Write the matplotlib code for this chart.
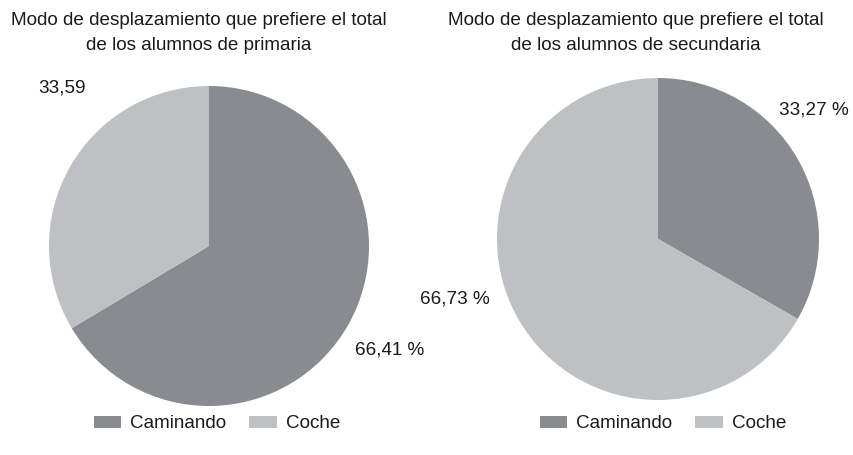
import matplotlib.pyplot as plt
from matplotlib.patches import Patch

# data
modos = ['Caminando', 'Coche']
primaria = [66.41, 33.59]
secundaria = [33.27, 66.73]
etiquetas_primaria = ['66,41 %', '33,59']
etiquetas_secundaria = ['33,27 %', '66,73 %']
titulos = ['Modo de desplazamiento que prefiere el total\nde los alumnos de primaria',
           'Modo de desplazamiento que prefiere el total\nde los alumnos de secundaria']

colores = ['#8a8b90', '#bfc0c4']
W, H = 854, 455
FS = 13.6

plt.rcParams['font.family'] = ['Liberation Sans', 'DejaVu Sans']
fig = plt.figure(figsize=(W / 100, H / 100), dpi=100)


def pie_axes(cx, cy, r):
    # axes in pixel terms: centre and radius of the pie
    return fig.add_axes([(cx - r) / W, (H - cy - r) / H, 2 * r / W, 2 * r / H])


def draw(ax, values, labels, label_pos):
    ax.pie(values, colors=colores, startangle=90, counterclock=False,
           radius=1, wedgeprops=dict(linewidth=0))
    ax.set_xlim(-1, 1)
    ax.set_ylim(-1, 1)
    ax.set_aspect('auto')
    ax.axis('off')
    for lab, (x, y) in zip(labels, label_pos):
        ax.text(x, y, lab, ha='center', va='center', fontsize=FS,
                color='#1a1a1a', clip_on=False)


ax1 = pie_axes(209, 246, 160)
draw(ax1, primaria, etiquetas_primaria, [(1.13, -0.65), (-0.92, 0.99)])

ax2 = pie_axes(658, 239, 161)
draw(ax2, secundaria, etiquetas_secundaria, [(0.97, 0.80), (-1.26, -0.37)])

for x, t in zip((199, 636), titulos):
    fig.text(x / W, 1 - 12 / H, t, ha='center', va='top',
             fontsize=FS, color='#1a1a1a', linespacing=1.6)

handles = [Patch(facecolor=c, edgecolor='none') for c in colores]
for cx in (217, 663):
    fig.legend(handles, modos, ncol=2, loc='center',
               bbox_to_anchor=(cx / W, 1 - 424 / H), frameon=False,
               fontsize=FS, handlelength=1.45, handleheight=0.65,
               handletextpad=0.5, columnspacing=1.2, labelcolor='#1a1a1a')

fig.savefig('out.png', dpi=100, facecolor='white')
